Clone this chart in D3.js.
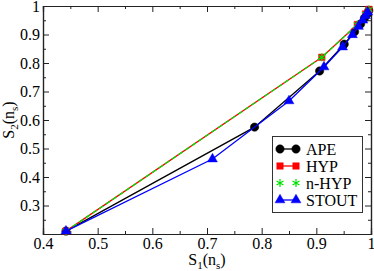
<!DOCTYPE html>
<html>
<head>
<meta charset="utf-8">
<script src="https://cdn.jsdelivr.net/npm/d3@7"></script>
<style>
  body { margin: 0; background: #fff; }
  svg text { font-family: "Liberation Serif", "Times New Roman", Times, "DejaVu Serif", serif !important; }
</style>
</head>
<body>
<div id="chart"></div>
<script>
// Series: [S1, S2] pairs.
const ape = [[0.442, 0.21], [0.787, 0.575], [0.906, 0.772], [0.951, 0.866], [0.970, 0.910],
  [0.981, 0.937], [0.988, 0.957], [0.993, 0.972], [0.996, 0.984]];
const hyp = [[0.442, 0.21], [0.910, 0.820], [0.975, 0.935], [0.990, 0.972], [0.996, 0.988]];
const nhyp = [[0.442, 0.21], [0.910, 0.820], [0.975, 0.935], [0.990, 0.972], [0.996, 0.988]];
const stout = [[0.442, 0.21], [0.710, 0.463], [0.850, 0.667], [0.914, 0.786], [0.948, 0.856],
  [0.966, 0.899], [0.977, 0.928], [0.985, 0.950], [0.990, 0.966], [0.994, 0.978]];

const xTicks = [0.4, 0.5, 0.6, 0.7, 0.8, 0.9, 1];
const yTicks = [0.3, 0.4, 0.5, 0.6, 0.7, 0.8, 0.9, 1];
const xMinor = [0.45, 0.55, 0.65, 0.75, 0.85, 0.95];
const yMinor = [0.25, 0.35, 0.45, 0.55, 0.65, 0.75, 0.85, 0.95];
const seriesNames = ["APE", "HYP", "n-HYP", "STOUT"];

const width = 374, height = 271;
const margin = { top: 6, right: 3, bottom: 37, left: 43 };
const serif = "'Liberation Serif', 'Times New Roman', serif";

const svg = d3.select("#chart").append("svg")
  .attr("width", width)
  .attr("height", height);

const x = d3.scaleLinear().domain([0.4, 1]).range([margin.left, width - margin.right]);
const y = d3.scaleLinear().domain([0.2, 1]).range([height - margin.bottom, margin.top]);
const fmt = d3.format("~g");

// axes, ticks pointing inward
function styleAxis(g) {
  g.attr("font-family", serif).attr("font-size", 16);
  g.select(".domain").attr("stroke", "#222").attr("stroke-width", 1.2);
  g.selectAll(".tick line").attr("stroke", "#222").attr("stroke-width", 1);
  g.selectAll(".tick text").attr("fill", "#000");
}

svg.append("g").attr("transform", `translate(0,${y(0.2)})`)
  .call(d3.axisBottom(x).tickValues(xTicks).tickFormat(fmt).tickSize(-6).tickPadding(4))
  .call(styleAxis);
svg.append("g").attr("transform", `translate(0,${y(0.2)})`)
  .call(d3.axisBottom(x).tickValues(xMinor).tickFormat("").tickSize(-3))
  .call(styleAxis);
svg.append("g").attr("transform", `translate(0,${y(1)})`)
  .call(d3.axisTop(x).tickValues(xTicks).tickFormat("").tickSize(-6))
  .call(styleAxis);
svg.append("g").attr("transform", `translate(0,${y(1)})`)
  .call(d3.axisTop(x).tickValues(xMinor).tickFormat("").tickSize(-3))
  .call(styleAxis);

svg.append("g").attr("transform", `translate(${x(0.4)},0)`)
  .call(d3.axisLeft(y).tickValues(yTicks).tickFormat(fmt).tickSize(-6).tickPadding(3))
  .call(styleAxis);
svg.append("g").attr("transform", `translate(${x(0.4)},0)`)
  .call(d3.axisLeft(y).tickValues(yMinor).tickFormat("").tickSize(-3))
  .call(styleAxis);
svg.append("g").attr("transform", `translate(${x(1)},0)`)
  .call(d3.axisRight(y).tickValues(yTicks).tickFormat("").tickSize(-6))
  .call(styleAxis);
svg.append("g").attr("transform", `translate(${x(1)},0)`)
  .call(d3.axisRight(y).tickValues(yMinor).tickFormat("").tickSize(-3))
  .call(styleAxis);

// axis titles
function subTitle(sel, sub) {
  sel.append("tspan").text("S");
  sel.append("tspan").attr("dy", 4).attr("font-size", 11).text(sub);
  sel.append("tspan").attr("dy", -4).text("(n");
  sel.append("tspan").attr("dy", 4).attr("font-size", 11).text("s");
  sel.append("tspan").attr("dy", -4).text(")");
}

svg.append("text")
  .attr("x", (x(0.4) + x(1)) / 2)
  .attr("y", 265)
  .attr("text-anchor", "middle")
  .attr("font-family", serif).attr("font-size", 16)
  .call(subTitle, "1");

svg.append("text")
  .attr("transform", `translate(14,${(y(0.2) + y(1)) / 2}) rotate(-90)`)
  .attr("text-anchor", "middle")
  .attr("font-family", serif).attr("font-size", 16)
  .call(subTitle, "2");

const line = d3.line().x(d => x(d[0])).y(d => y(d[1]));
const plot = svg.append("g");

const circle = d3.symbol().type(d3.symbolCircle).size(55);
const square = d3.symbol().type(d3.symbolSquare).size(42);
const tri = d3.symbol().type(d3.symbolTriangle).size(42);
const star = d3.symbol().type(d3.symbolAsterisk).size(45);

function drawSeries(data, color, sym, opts) {
  plot.append("path").datum(data)
    .attr("fill", "none")
    .attr("stroke", color)
    .attr("stroke-width", 1.3)
    .attr("stroke-dasharray", opts.dash || null)
    .attr("d", line);
  plot.selectAll(null).data(data).enter().append("path")
    .attr("transform", d => `translate(${x(d[0])},${y(d[1])})`)
    .attr("d", sym)
    .attr("fill", opts.hollow ? "none" : color)
    .attr("stroke", color)
    .attr("stroke-width", opts.hollow ? 1.2 : 0.5);
}

drawSeries(ape, "#000000", circle, {});
drawSeries(hyp, "#ff0000", square, {});
drawSeries(nhyp, "#00e000", star, { dash: "5,3", hollow: true });
drawSeries(stout, "#0000ff", tri, {});

// legend
const lg = svg.append("g");
lg.append("rect")
  .attr("x", 272.5).attr("y", 136.5).attr("width", 90).attr("height", 76)
  .attr("fill", "#fff").attr("stroke", "#333").attr("stroke-width", 1);

const legendItems = [
  { name: seriesNames[0], color: "#000000", sym: circle, dash: null, hollow: false },
  { name: seriesNames[1], color: "#ff0000", sym: square, dash: null, hollow: false },
  { name: seriesNames[2], color: "#00e000", sym: star, dash: "2,20", hollow: true },
  { name: seriesNames[3], color: "#0000ff", sym: tri, dash: null, hollow: false }
];
legendItems.forEach((it, i) => {
  const cy = 149 + i * 17;
  const g = lg.append("g");
  if (it.dash === null) {
    g.append("line").attr("x1", 280).attr("x2", 296).attr("y1", cy).attr("y2", cy)
      .attr("stroke", it.color).attr("stroke-width", 1.3);
  }
  [280, 296].forEach(px => {
    g.append("path").attr("transform", `translate(${px},${cy})`)
      .attr("d", it.sym)
      .attr("fill", it.hollow ? "none" : it.color)
      .attr("stroke", it.color)
      .attr("stroke-width", it.hollow ? 1.2 : 0.5);
  });
  g.append("text").attr("x", 306).attr("y", cy + 5.5)
    .attr("font-family", serif).attr("font-size", 16).text(it.name);
});
</script>
</body>
</html>
